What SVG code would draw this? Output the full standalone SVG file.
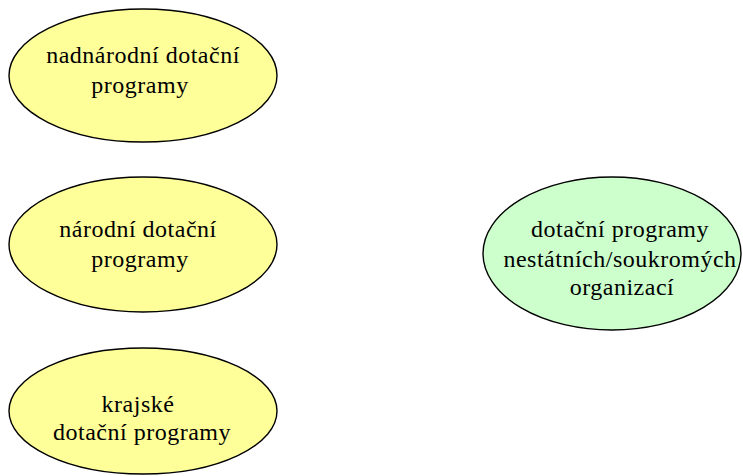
<svg xmlns="http://www.w3.org/2000/svg" width="743" height="476" viewBox="0 0 743 476">
<style>
.y{fill:#ffff99;stroke:#000;stroke-width:1.4}
.g{fill:#ccffcc;stroke:#000;stroke-width:1.4}
.t{font-size:24px;fill:#000;text-anchor:middle;letter-spacing:0.5px}
</style>
<rect width="743" height="476" fill="#fff"/>
<g id="connectors"></g>
<g font-family="'Liberation Serif', 'DejaVu Serif', serif">
<g id="nadnarodni">
<ellipse class="y" cx="143" cy="75.5" rx="134" ry="66.5"/>
<text class="t" x="143" y="63">nadnárodní dotační</text>
<text class="t" x="140" y="93">programy</text>
</g>
<g id="narodni">
<ellipse class="y" cx="143" cy="244.5" rx="134" ry="67.5"/>
<text class="t" x="138" y="237">národní dotační</text>
<text class="t" x="140" y="267">programy</text>
</g>
<g id="krajske">
<ellipse class="y" cx="143" cy="411" rx="134" ry="63"/>
<text class="t" x="138" y="412">krajské</text>
<text class="t" x="142" y="440">dotační programy</text>
</g>
<g id="nestatni">
<ellipse class="g" cx="612" cy="253.5" rx="129" ry="76.5"/>
<text class="t" x="620" y="237">dotační programy</text>
<text class="t" x="620" y="267">nestátních/soukromých</text>
<text class="t" x="622" y="295">organizací</text>
</g>
</g>
</svg>
